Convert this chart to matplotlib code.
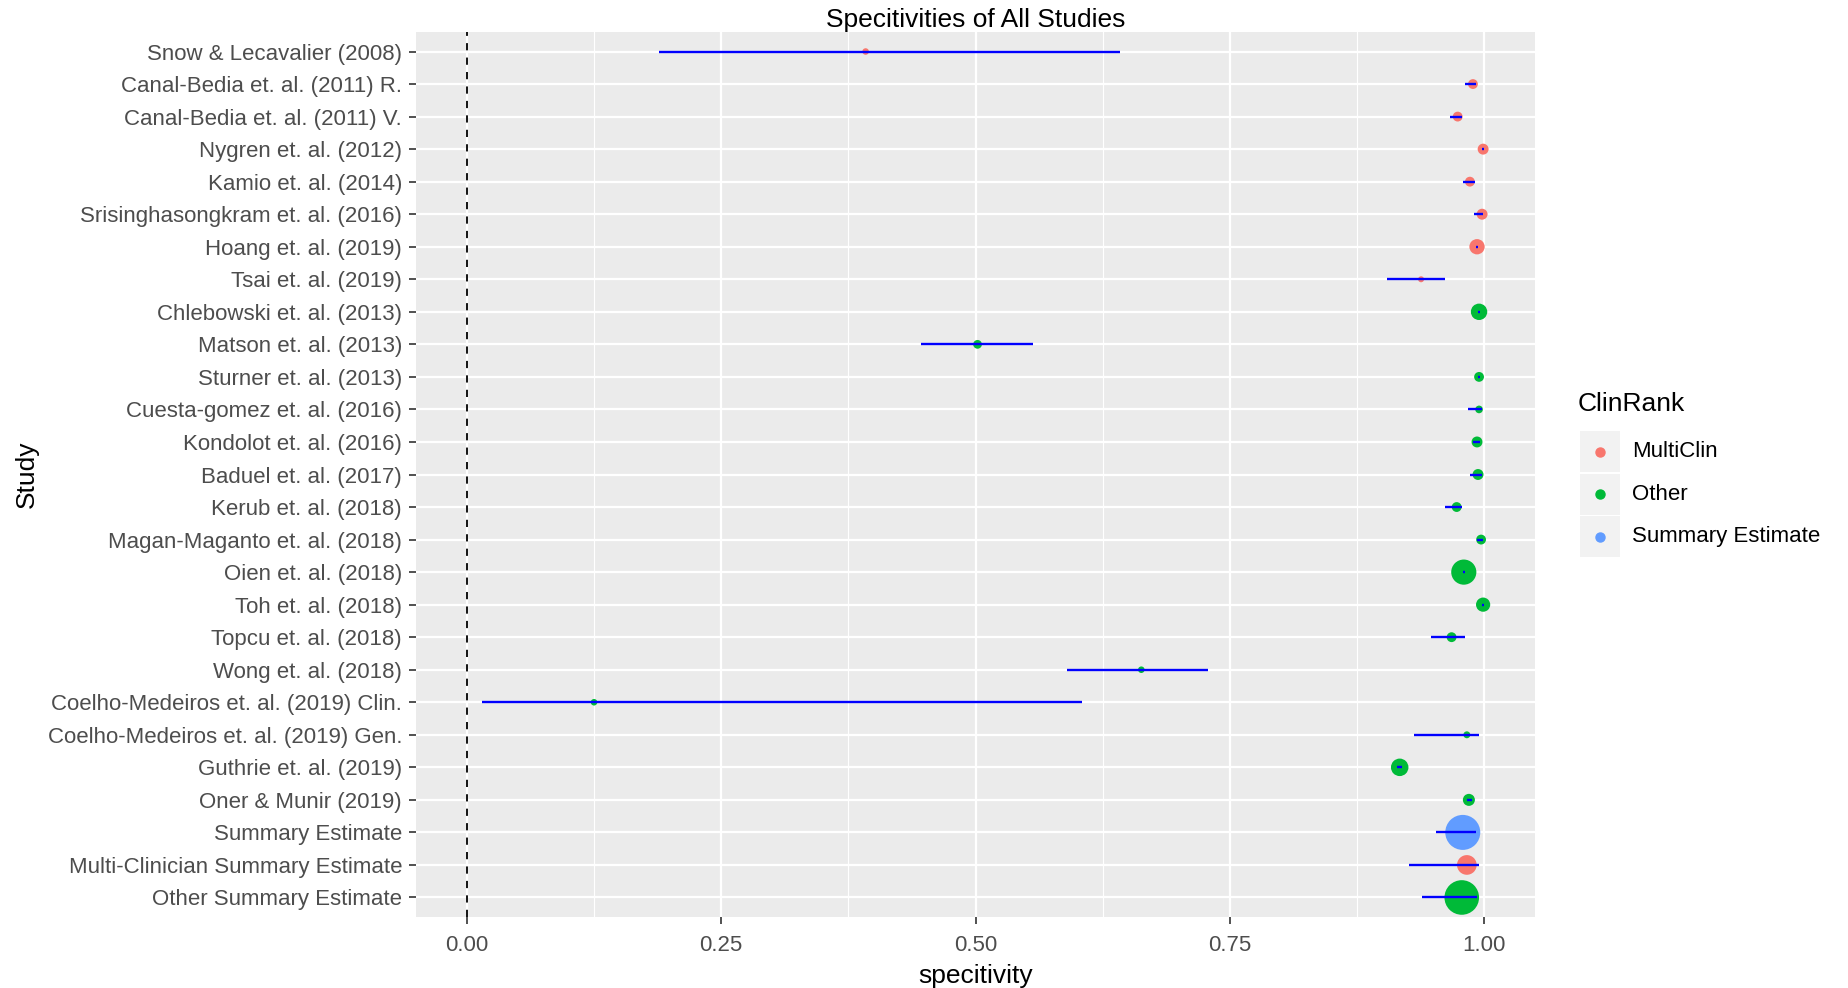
import matplotlib
matplotlib.use("Agg")
import matplotlib.pyplot as plt
from matplotlib.patches import Rectangle
from matplotlib.lines import Line2D
import numpy as np

plt.rcParams['font.family'] = ['Liberation Sans', 'DejaVu Sans']

# data (top to bottom)
studies = [
    "Snow & Lecavalier (2008)", "Canal-Bedia et. al. (2011) R.", "Canal-Bedia et. al. (2011) V.",
    "Nygren et. al. (2012)", "Kamio et. al. (2014)", "Srisinghasongkram et. al. (2016)",
    "Hoang et. al. (2019)", "Tsai et. al. (2019)", "Chlebowski et. al. (2013)",
    "Matson et. al. (2013)", "Sturner et. al. (2013)", "Cuesta-gomez et. al. (2016)",
    "Kondolot et. al. (2016)", "Baduel et. al. (2017)", "Kerub et. al. (2018)",
    "Magan-Maganto et. al. (2018)", "Oien et. al. (2018)", "Toh et. al. (2018)",
    "Topcu et. al. (2018)", "Wong et. al. (2018)", "Coelho-Medeiros et. al. (2019) Clin.",
    "Coelho-Medeiros et. al. (2019) Gen.", "Guthrie et. al. (2019)", "Oner & Munir (2019)",
    "Summary Estimate", "Multi-Clinician Summary Estimate", "Other Summary Estimate",
]
clinrank = ["MultiClin"] * 8 + ["Other"] * 16 + ["Summary Estimate", "MultiClin", "Other"]
spec = [0.392, 0.989, 0.974, 0.999, 0.986, 0.998, 0.993, 0.938, 0.995,
        0.502, 0.995, 0.995, 0.993, 0.994, 0.973, 0.997, 0.980, 0.999,
        0.968, 0.663, 0.125, 0.983, 0.917, 0.985, 0.979, 0.983, 0.978]
lower = [0.189, 0.981, 0.966, 0.998, 0.979, 0.990, 0.992, 0.905, 0.994,
         0.446, 0.994, 0.984, 0.989, 0.986, 0.962, 0.993, 0.979, 0.998,
         0.948, 0.590, 0.015, 0.931, 0.914, 0.983, 0.953, 0.926, 0.939]
upper = [0.642, 0.992, 0.978, 1.000, 0.991, 0.999, 0.994, 0.962, 0.996,
         0.557, 0.996, 0.998, 0.996, 0.998, 0.978, 0.999, 0.981, 1.000,
         0.981, 0.729, 0.605, 0.995, 0.919, 0.988, 0.992, 0.995, 0.993]
weight = [36, 81, 81, 100, 81, 100, 196, 30, 225,
          64, 81, 49, 100, 100, 81, 81, 529, 169,
          81, 36, 36, 40, 256, 121, 1024, 324, 1000]
levels = ["MultiClin", "Other", "Summary Estimate"]

colors = {"MultiClin": "#F8766D", "Other": "#00BA38", "Summary Estimate": "#619CFF"}

n = len(studies)
ypos = np.arange(n)[::-1]

fig = plt.figure(figsize=(18.48, 9.88), dpi=100)
ax = fig.add_axes([416 / 1848, 71 / 988, 1119 / 1848, 885 / 988])
ax.set_facecolor("#EBEBEB")
for s in ax.spines.values():
    s.set_visible(False)

ax.set_xlim(-0.05, 1.05)
ax.set_ylim(-0.6, n - 0.4)

# grid
for gx in np.arange(0.125, 1.0, 0.25):
    ax.axvline(gx, color="white", lw=0.8, zorder=0)
for gx in np.arange(0, 1.01, 0.25):
    ax.axvline(gx, color="white", lw=1.6, zorder=0)
for gy in ypos:
    ax.axhline(gy, color="white", lw=1.6, zorder=0)

ax.axvline(0, color="black", lw=1.3, ls=(0, (4, 4)), zorder=1)

ax.scatter(spec, ypos, s=np.array(weight) * 0.62,
           c=[colors[c] for c in clinrank], linewidths=0, zorder=3)
ax.hlines(ypos, lower, upper, color="blue", lw=1.7, zorder=4)

ax.set_yticks(ypos)
ax.set_yticklabels(studies)
ax.set_xticks([0, 0.25, 0.5, 0.75, 1.0])
ax.set_xticklabels(["0.00", "0.25", "0.50", "0.75", "1.00"])
ax.tick_params(axis="y", labelsize=16, labelcolor="#4D4D4D", color="#333333",
               length=5, width=1.2, pad=5)
ax.tick_params(axis="x", labelsize=16, labelcolor="#4D4D4D", color="#333333",
               length=5, width=1.2, pad=8)

ax.set_xlabel("specitivity", fontsize=19, labelpad=6)
ax.set_ylabel("Study", fontsize=19, labelpad=6)
ax.set_title("Specitivities of All Studies", fontsize=19, pad=-2.5)

# legend drawn like ggplot's key boxes
fig.text(1578 / 1848, 1 - 404 / 988, "ClinRank", fontsize=19, va="center", ha="left")
for i, lev in enumerate(levels):
    top = 431 + i * 42.5
    fig.add_artist(Rectangle((1580 / 1848, 1 - (top + 41) / 988), 40 / 1848, 41 / 988,
                             transform=fig.transFigure, facecolor="#F2F2F2", edgecolor="none"))
    fig.add_artist(Line2D([1600 / 1848], [1 - (top + 20.5) / 988], transform=fig.transFigure,
                          marker="o", markersize=6.5, color=colors[lev], linestyle="none"))
    fig.text(1632 / 1848, 1 - (top + 20.5) / 988, lev, fontsize=16, va="center", ha="left")

fig.savefig("out.png", dpi=100, facecolor="white")
